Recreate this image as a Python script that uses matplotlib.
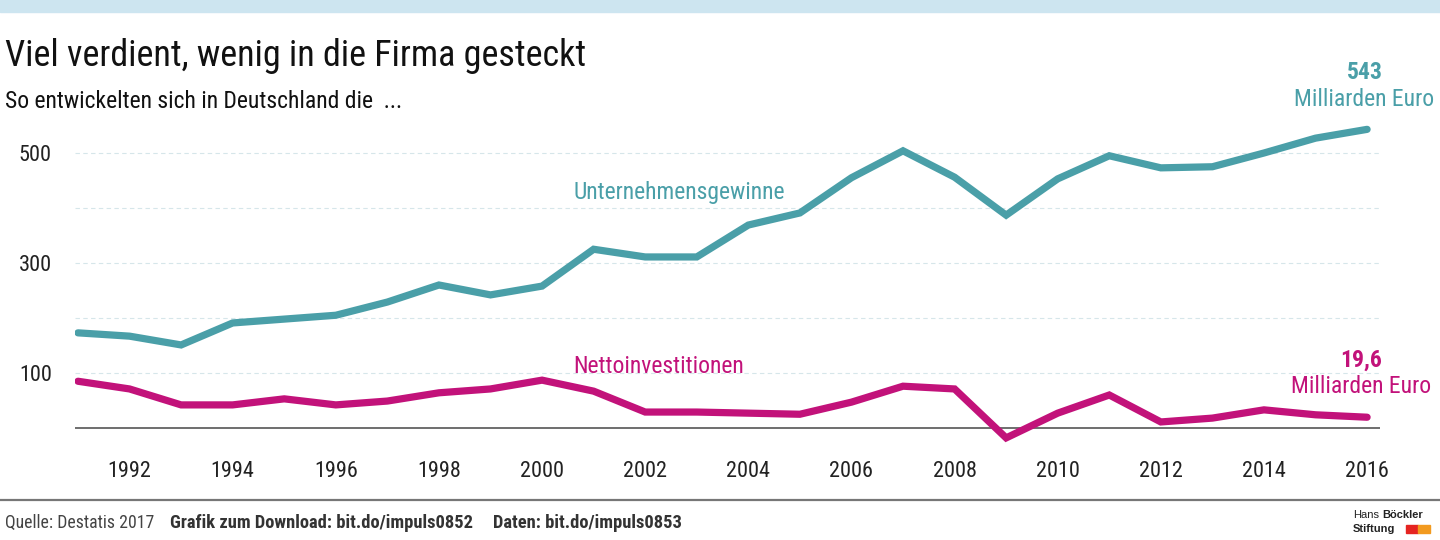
import matplotlib
matplotlib.use('Agg')
import matplotlib.pyplot as plt
from matplotlib.patches import Rectangle

# Daten (Milliarden Euro)
jahre = list(range(1991, 2017))
gewinne = [173, 167, 151, 191, 198, 205, 229, 260, 242, 258, 325, 311, 311, 369,
           391, 455, 504, 456, 387, 453, 495, 473, 475, 500, 527, 543]
investitionen = [85, 71, 42, 42, 53, 42, 49, 64, 71, 87, 67, 29, 29, 27,
                 25, 47, 76, 71, -18, 27, 60, 11, 18, 33, 24, 19.6]
xticks = list(range(1992, 2017, 2))
yticks = [100, 300, 500]
gridlines = [100, 200, 300, 400, 500]

teal = '#4a9fa8'
magenta = '#c2127a'
font = ['Roboto Condensed', 'Fira Sans Condensed', 'Liberation Sans Narrow', 'DejaVu Sans']
plt.rcParams['font.family'] = font

W, H = 1440, 540
fig = plt.figure(figsize=(W / 100, H / 100), dpi=100)
renderer = fig.canvas.get_renderer()

# Achsen in Pixeln platzieren
x0, x1 = 75.4, 1380
y_top, y_bot = 120, 444.5
ax = fig.add_axes([x0 / W, 1 - y_bot / H, (x1 - x0) / W, (y_bot - y_top) / H])
ax.set_xlim(1990.95, 2016.25)
ax.set_ylim(-30, 560)

for g in gridlines:
    ax.axhline(g, color='#d6e6ea', lw=0.8, ls=(0, (4, 3)), zorder=1)
ax.axhline(0, color='#555555', lw=1.2, zorder=2)

ax.plot(jahre, gewinne, color=teal, lw=5.2, solid_capstyle='round', solid_joinstyle='miter', zorder=3)
ax.plot(jahre, investitionen, color=magenta, lw=5.2, solid_capstyle='round', solid_joinstyle='miter', zorder=3)

ax.set_xticks(xticks)
ax.set_xticklabels([str(t) for t in xticks], fontsize=16, color='#222222')
ax.set_yticks(yticks)
ax.set_yticklabels([str(t) for t in yticks], fontsize=16, color='#222222')
ax.tick_params(axis='x', length=0, pad=12)
ax.tick_params(axis='y', length=0, pad=17)
for s in ax.spines.values():
    s.set_visible(False)
ax.patch.set_alpha(0)

ax.text(2000.6, 428, 'Unternehmensgewinne', color=teal, fontsize=17, va='center', ha='left')
ax.text(2000.6, 112, 'Nettoinvestitionen', color=magenta, fontsize=17, va='center', ha='left')

ax.annotate('543', xy=(jahre[-1], gewinne[-1]), xytext=(-2, 57), textcoords='offset pixels',
            ha='center', va='center', color=teal, fontsize=17, fontweight='bold')
ax.annotate('Milliarden Euro', xy=(jahre[-1], gewinne[-1]), xytext=(-3, 30), textcoords='offset pixels',
            ha='center', va='center', color=teal, fontsize=17)
ax.annotate('19,6', xy=(jahre[-1], investitionen[-1]), xytext=(-6, 57), textcoords='offset pixels',
            ha='center', va='center', color=magenta, fontsize=17, fontweight='bold')
ax.annotate('Milliarden Euro', xy=(jahre[-1], investitionen[-1]), xytext=(-6, 31), textcoords='offset pixels',
            ha='center', va='center', color=magenta, fontsize=17)

# Kopf
fig.patches.append(Rectangle((0, 1 - 12 / H), 1, 12 / H, transform=fig.transFigure,
                             color='#cde5f0', zorder=0))
fig.text(5 / W, 1 - 56 / H, 'Viel verdient, wenig in die Firma gesteckt', fontsize=26,
         color='#111111', va='center', ha='left')
fig.text(5 / W, 1 - 101 / H, 'So entwickelten sich in Deutschland die  ...', fontsize=17,
         color='#111111', va='center', ha='left')

# Fuss
fig.add_artist(plt.Line2D([0, 1], [1 - 500 / H, 1 - 500 / H], transform=fig.transFigure,
                          color='#777777', lw=1.6))
fig.text(5 / W, 1 - 523 / H, 'Quelle: Destatis 2017', fontsize=12.8, color='#444444',
         va='center', ha='left')
fig.text(170 / W, 1 - 523 / H, 'Grafik zum Download: bit.do/impuls0852', fontsize=13.3,
         color='#333333', va='center', ha='left', fontweight='bold')
fig.text(493 / W, 1 - 523 / H, 'Daten: bit.do/impuls0853', fontsize=13.3,
         color='#333333', va='center', ha='left', fontweight='bold')

# Logo
logo = ['Liberation Sans', 'DejaVu Sans']
t = fig.text(1353 / W, 1 - 515 / H, 'Hans', fontsize=8, color='#222222', va='center', ha='left',
             family=logo)
w = t.get_window_extent(renderer).width
fig.text((1353 + w + 3) / W, 1 - 515 / H, 'Böckler', fontsize=8, color='#222222', va='center',
         ha='left', fontweight='bold', family=logo)
fig.text(1353 / W, 1 - 529 / H, 'Stiftung', fontsize=8, color='#222222', va='center', ha='left',
         fontweight='bold', family=logo)
fig.patches.append(Rectangle((1406 / W, 1 - 533 / H), 12 / W, 8 / H, transform=fig.transFigure,
                             color='#e52421'))
fig.patches.append(Rectangle((1418 / W, 1 - 533 / H), 12 / W, 8 / H, transform=fig.transFigure,
                             color='#f29a1f'))

fig.savefig('out.png', dpi=100)
